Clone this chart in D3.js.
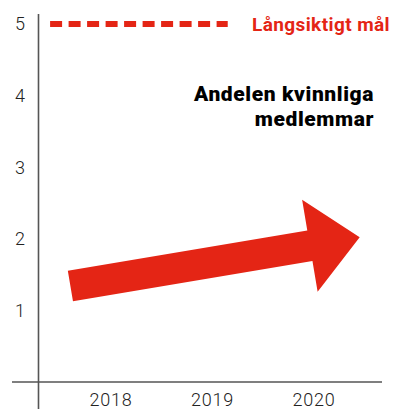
<!DOCTYPE html>
<html>
<head>
<meta charset="utf-8">
<script src="https://cdn.jsdelivr.net/npm/d3@7"></script>
<style>
  body { margin: 0; background: #fff; }
  svg { display: block; }
  text { font-family: Roboto, "DejaVu Sans", sans-serif; }
</style>
</head>
<body>
<svg width="403" height="411"></svg>
<script>
// tick values on the axes
var yTicks = [1, 2, 3, 4, 5];
var years = [2018, 2019, 2020];
// long term goal (dashed line) and the trend arrow, in data units
var goalValue = 5;
var goalLabel = "Långsiktigt mål";
var goalYears = [2017.4, 2019.15];
var arrowFrom = [2017.6, 1.34];
var arrowTo = [2020.45, 2.02];
var titleLines = ["Andelen kvinnliga", "medlemmar"];

var svg = d3.select("svg");
var red = "#e42515";

var xScale = d3.scaleLinear().domain([2018, 2020]).range([111, 314]);
var yScale = d3.scaleLinear().domain([0, 5]).range([382, 24]);

// axes lines
svg.append("line")
  .attr("x1", 12).attr("x2", 382)
  .attr("y1", yScale(0)).attr("y2", yScale(0))
  .style("stroke", "#555").style("stroke-width", 1.6);
svg.append("line")
  .attr("x1", 38.5).attr("x2", 38.5)
  .attr("y1", 14).attr("y2", 409)
  .style("stroke", "#555").style("stroke-width", 1.6);

// y tick labels
svg.selectAll("text.ytick")
  .data(yTicks)
  .enter()
  .append("text")
    .attr("class", "ytick")
    .attr("x", 20)
    .attr("y", d => yScale(d))
    .attr("dy", "0.36em")
    .attr("text-anchor", "middle")
    .style("font-size", "18px")
    .style("font-weight", 300)
    .style("fill", "#222")
    .text(d => d);

// x tick labels (kept just above the bottom edge)
svg.selectAll("text.xtick")
  .data(years)
  .enter()
  .append("text")
    .attr("class", "xtick")
    .attr("x", d => xScale(d))
    .attr("y", 406)
    .attr("text-anchor", "middle")
    .style("font-size", "18px")
    .style("letter-spacing", "0.8px")
    .style("font-weight", 300)
    .style("fill", "#222")
    .text(d => d);

// dashed goal line
svg.append("line")
  .attr("x1", xScale(goalYears[0])).attr("x2", xScale(goalYears[1]))
  .attr("y1", yScale(goalValue)).attr("y2", yScale(goalValue))
  .style("stroke", red)
  .style("stroke-width", 6)
  .style("stroke-dasharray", "12,6.5");

svg.append("text")
  .attr("x", 390)
  .attr("y", yScale(goalValue))
  .attr("dy", "0.36em")
  .attr("text-anchor", "end")
  .style("font-size", "19px")
  .style("letter-spacing", "0.4px")
  .style("font-weight", 700)
  .style("fill", red)
  .text(goalLabel);

// title
svg.selectAll("text.title")
  .data(titleLines)
  .enter()
  .append("text")
    .attr("class", "title")
    .attr("x", 374)
    .attr("y", (d, i) => 101 + i * 25)
    .attr("text-anchor", "end")
    .style("font-size", "21px")
    .style("letter-spacing", "0.6px")
    .style("font-weight", 900)
    .style("fill", "#000")
    .text(d => d);

// trend arrow: shaft and head built from the two data points
var p0 = [xScale(arrowFrom[0]), yScale(arrowFrom[1])];
var p1 = [xScale(arrowTo[0]), yScale(arrowTo[1])];
var dx = p1[0] - p0[0], dy = p1[1] - p0[1];
var len = Math.sqrt(dx * dx + dy * dy);
var u = [dx / len, dy / len];
var n = [-u[1], u[0]];
var shaftHalf = 15.5, headHalf = 46.7, headLen = 50.5;
var b = [p1[0] - u[0] * headLen, p1[1] - u[1] * headLen];
function pt(c, k) { return [c[0] + n[0] * k, c[1] + n[1] * k]; }
var poly = [
  pt(p0, -shaftHalf), pt(b, -shaftHalf), pt(b, -headHalf), p1,
  pt(b, headHalf), pt(b, shaftHalf), pt(p0, shaftHalf)
];
svg.append("polygon")
  .attr("points", poly.map(p => p.join(",")).join(" "))
  .style("fill", red);
</script>
</body>
</html>
